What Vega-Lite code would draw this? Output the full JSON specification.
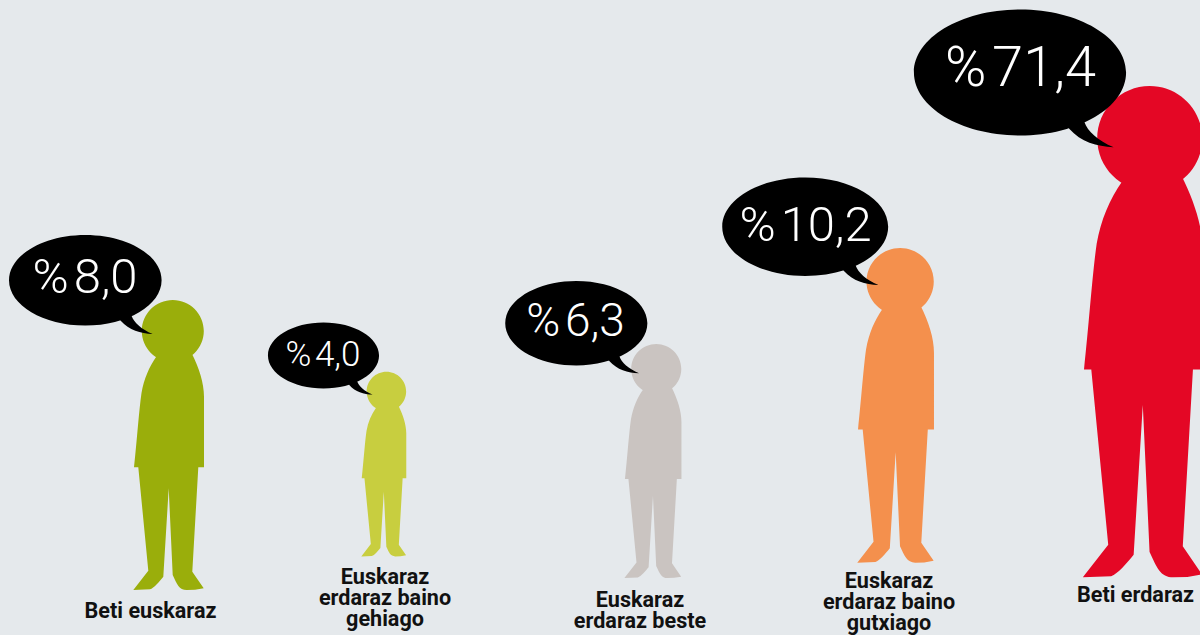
{
"$schema":"https://vega.github.io/schema/vega-lite/v6.json",
"width":1200,"height":635,"padding":0,"autosize":"none",
"background":"#e5e9ec",
"config":{"view":{"stroke":null}},
"data":{"values":[
{"label":"Beti euskaraz","value":8.0,"text":"%\u200a8,0","caption":"Beti euskaraz"},
{"label":"Euskaraz erdaraz baino gehiago","value":4.0,"text":"%\u200a4,0","caption":"Euskaraz\nerdaraz baino\ngehiago"},
{"label":"Euskaraz erdaraz beste","value":6.3,"text":"%\u200a6,3","caption":"Euskaraz\nerdaraz beste"},
{"label":"Euskaraz erdaraz baino gutxiago","value":10.2,"text":"%\u200a10,2","caption":"Euskaraz\nerdaraz baino\ngutxiago"},
{"label":"Beti erdaraz","value":71.4,"text":"%\u200a71,4","caption":"Beti erdaraz"}
]},
"layer":[
{"mark":{"type":"point","filled":true,"opacity":1,"strokeWidth":0,
"shape":"M22.7 -91.7 C30 -77 35 -62 35 -48.3 L35 22.3 L29.3 22.3 L23.3 126.7 L34.7 143.3 L26 144.8 L17.7 145 C10 145 8 139 3.7 130 L-0.3 43.3 L-5.7 131.7 C-10 137 -15 143 -19 144.3 L-35.7 145 L-20.7 125.7 L-30.7 22.3 L-35 22.3 C-32 -5 -30 -35 -27.5 -52 C-25 -66 -20 -78 -12.3 -89 Z M-27.2 -114 C-27.2 -131.1 -13.3 -145 3.8 -145 C20.9 -145 34.8 -131.1 34.8 -114 C34.8 -96.9 20.9 -83 3.8 -83 C-13.3 -83 -27.2 -96.9 -27.2 -114 Z"},
"encoding":{
"x":{"field":"value","type":"quantitative","axis":null,"scale":{"domain":[4,6.3,8,10.2,71.4],"range":[384,653.2,169,896,1143.3],"nice":false,"zero":false}},
"y":{"field":"value","type":"quantitative","axis":null,"scale":{"domain":[4,6.3,8,10.2,71.4],"range":[464.1,461,445,405.3,331.7],"nice":false,"zero":false}},
"size":{"field":"value","type":"quantitative","legend":null,"scale":{"domain":[4,6.3,8,10.2,71.4],"range":[1.62,2.605,4,4.71,11.48],"zero":false,"nice":false}},
"color":{"field":"label","type":"nominal","legend":null,"scale":{"domain":["Beti euskaraz","Euskaraz erdaraz baino gehiago","Euskaraz erdaraz beste","Euskaraz erdaraz baino gutxiago","Beti erdaraz"],"range":["#9aae0b","#c8ce3f","#cac4c1","#f4904d","#e40725"]}}
}},
{"mark":{"type":"point","filled":true,"opacity":1,"strokeWidth":0,"color":"#000000",
"shape":"M-76.3 0 C-76.3 -25 -42.1 -45.3 0 -45.3 C42.1 -45.3 76.3 -25 76.3 0 C76.3 25 42.1 45.3 0 45.3 C-42.1 45.3 -76.3 25 -76.3 0 Z M46.4 35.7 C48.5 42 56 49 67.4 53.7 C55 53 44 50 35.4 40.4 L30 30 Z"},
"encoding":{
"x":{"field":"value","type":"quantitative","axis":null,"scale":{"domain":[4,6.3,8,10.2,71.4],"range":[323.5,576.3,85.3,805.2,1020],"nice":false,"zero":false}},
"y":{"field":"value","type":"quantitative","axis":null,"scale":{"domain":[4,6.3,8,10.2,71.4],"range":[355.5,323.3,280.3,226.7,72.5],"nice":false,"zero":false}},
"size":{"field":"value","type":"quantitative","legend":null,"scale":{"domain":[4,6.3,8,10.2,71.4],"range":[2.12,3.47,4,4.73,7.73],"zero":false,"nice":false}}
}},
{"mark":{"type":"text","font":"Roboto","fontWeight":300,"color":"#ffffff","align":"center","baseline":"alphabetic"},
"encoding":{
"text":{"field":"text"},
"x":{"field":"value","type":"quantitative","axis":null,"scale":{"domain":[4,6.3,8,10.2,71.4],"range":[323,575.5,85,805.5,1020.5],"nice":false,"zero":false}},
"y":{"field":"value","type":"quantitative","axis":null,"scale":{"domain":[4,6.3,8,10.2,71.4],"range":[366,335.7,293,241,86],"nice":false,"zero":false}},
"size":{"field":"value","type":"quantitative","legend":null,"scale":{"domain":[4,6.3,8,10.2,71.4],"range":[35,46,49,49,56],"zero":false,"nice":false}}
}},
{"mark":{"type":"text","font":"Roboto","fontWeight":700,"fontSize":21.6,"color":"#111111","align":"center","baseline":"alphabetic","lineBreak":"\n","lineHeight":21},
"encoding":{
"text":{"field":"caption"},
"x":{"field":"value","type":"quantitative","axis":null,"scale":{"domain":[4,6.3,8,10.2,71.4],"range":[385,640,150.5,889,1135.5],"nice":false,"zero":false}},
"y":{"field":"value","type":"quantitative","axis":null,"scale":{"domain":[4,6.3,8,10.2,71.4],"range":[583.5,606.5,617.5,588,601.5],"nice":false,"zero":false}}
}}
],
"resolve":{"scale":{"x":"independent","y":"independent","size":"independent"}}
}
